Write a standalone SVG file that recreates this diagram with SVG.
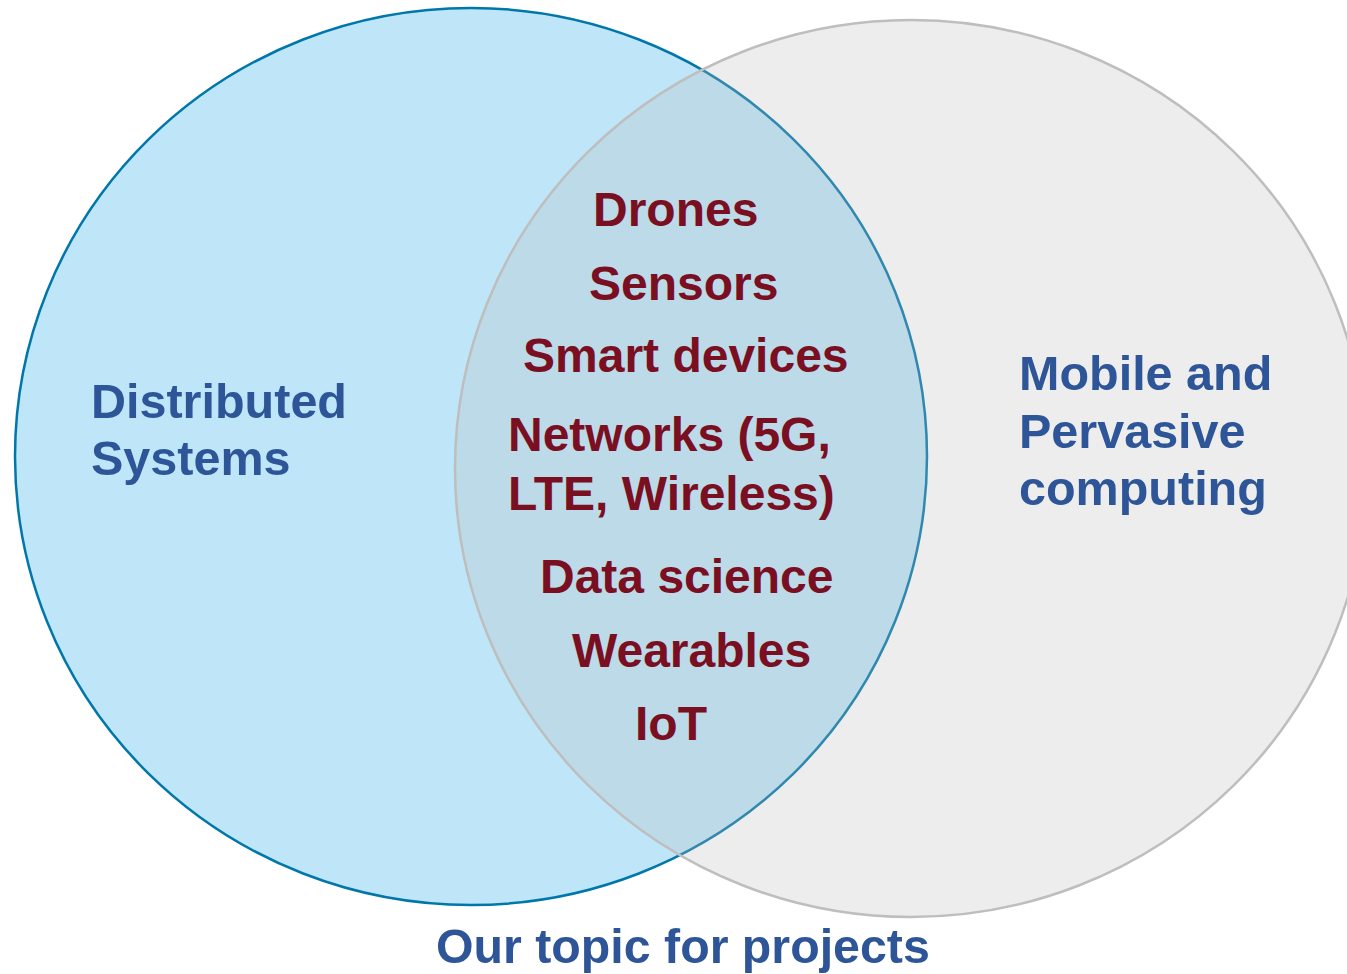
<svg xmlns="http://www.w3.org/2000/svg" width="1347" height="974" viewBox="0 0 1347 974">
  <style>
    text { font-family: "Liberation Sans", Arial, sans-serif; font-weight: bold; }
    .inner { fill: #7A0F22; font-size: 48px; }
    .outer { fill: #2D5597; font-size: 48.5px; }
    .caption { fill: #2D5597; font-size: 48.3px; }
  </style>
  <rect x="0" y="0" width="1347" height="974" fill="#FFFFFF"/>

  <!-- Distributed Systems set -->
  <g id="set-distributed">
    <ellipse cx="471" cy="456.5" rx="456" ry="448.5" fill="#BEE6F8" stroke="#0077AA" stroke-width="2.5"/>
    <text class="outer" x="91" y="418">Distributed</text>
    <text class="outer" x="91" y="475">Systems</text>
  </g>

  <!-- Mobile and Pervasive computing set, translucent over the first -->
  <g id="set-mobile">
    <ellipse cx="911" cy="468.5" rx="456" ry="448.5" fill="#BABABA" fill-opacity="0.26" stroke="#BEBEBE" stroke-width="2.5"/>
    <text class="outer" x="1019" y="390">Mobile and</text>
    <text class="outer" x="1019" y="448">Pervasive</text>
    <text class="outer" x="1019" y="505">computing</text>
  </g>

  <!-- Topics in the overlap -->
  <g id="overlap-topics">
    <text class="inner" x="593" y="226">Drones</text>
    <text class="inner" x="589" y="300">Sensors</text>
    <text class="inner" x="523" y="372">Smart devices</text>
    <text class="inner" x="508" y="451">Networks (5G,</text>
    <text class="inner" x="508" y="510">LTE, Wireless)</text>
    <text class="inner" x="540" y="593">Data science</text>
    <text class="inner" x="572" y="667">Wearables</text>
    <text class="inner" x="635" y="740">IoT</text>
  </g>

  <g id="caption">
    <text class="caption" x="436" y="963">Our topic for projects</text>
  </g>
</svg>
